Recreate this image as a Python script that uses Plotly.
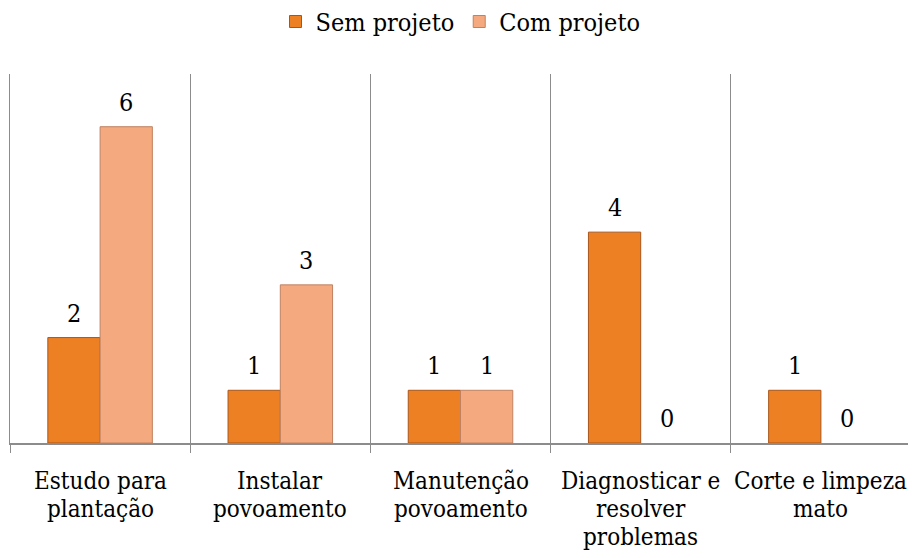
import plotly.graph_objects as go

# Chart data
categories = [
    ["Estudo para", "plantação"],
    ["Instalar", "povoamento"],
    ["Manutenção", "povoamento"],
    ["Diagnosticar e", "resolver", "problemas"],
    ["Corte e limpeza", "mato"],
]
sem_projeto = [2, 1, 1, 4, 1]
com_projeto = [6, 3, 1, 0, 0]

FONT = "DejaVu Serif Condensed, DejaVu Serif"
GRID = "#8c8c8c"
BARGAP = 0.42
half = (1 - BARGAP) / 4  # offset of each bar centre from category centre

x_pos = list(range(len(categories)))

fig = go.Figure()
fig.add_trace(go.Bar(x=x_pos, y=sem_projeto, name="Sem projeto",
                     marker=dict(color="#EE8024",
                                 line=dict(color="#A9561C", width=[1 if v else 0 for v in sem_projeto]))))
fig.add_trace(go.Bar(x=x_pos, y=com_projeto, name="Com projeto",
                     marker=dict(color="#F4A97F",
                                 line=dict(color="#C08262", width=[1 if v else 0 for v in com_projeto]))))

# Value labels above each bar
for i in x_pos:
    for val, off in ((sem_projeto[i], -half), (com_projeto[i], half)):
        fig.add_annotation(x=i + off, y=val, text=str(val), showarrow=False,
                           yanchor="bottom", yshift=8, font=dict(size=25, color="black", family=FONT))

# Category labels, one annotation per line to keep tight line spacing
for i, lines in enumerate(categories):
    for j, line in enumerate(lines):
        fig.add_annotation(x=i, y=0, yref="paper", text=line, showarrow=False,
                           yanchor="middle", yshift=-38 - 28 * j,
                           font=dict(size=24, color="black", family=FONT))

fig.update_xaxes(range=[-0.5, len(categories) - 0.5],
                 tickvals=[k - 0.5 for k in range(len(categories) + 1)],
                 showticklabels=False, showgrid=True, gridcolor=GRID, gridwidth=1,
                 ticks="outside", ticklen=8, tickcolor=GRID,
                 showline=True, linecolor=GRID, linewidth=1.5, zeroline=False)
fig.update_yaxes(range=[0, 7], showticklabels=False, showgrid=False, zeroline=False,
                 showline=True, mirror=True, linecolor=GRID, linewidth=1, ticks="")

# page body has an 8px margin, so the figure is a little smaller than the window
fig.update_layout(width=908, height=550, barmode="group", bargap=BARGAP, bargroupgap=0,
                  plot_bgcolor="white", paper_bgcolor="white",
                  font=dict(family=FONT, size=24, color="black"),
                  legend=dict(orientation="h", x=0.5, xanchor="center", yref="container", y=0.975,
                              yanchor="middle", font=dict(size=25, family=FONT), itemclick=False),
                  margin=dict(t=66, b=115, l=2, r=5))

fig.write_html("out.html")
